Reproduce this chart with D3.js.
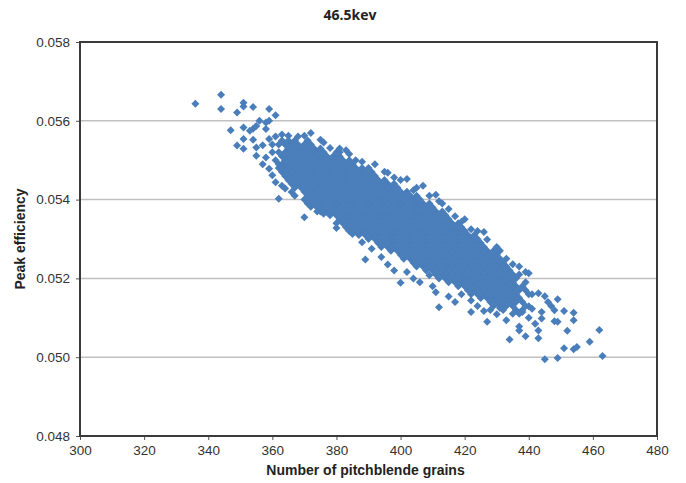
<!DOCTYPE html>
<html>
<head>
<meta charset="utf-8">
<script src="https://cdn.jsdelivr.net/npm/d3@7"></script>
<style>
  body { margin: 0; background: #fff; }
  .tick text { font-family: Arial, "Liberation Sans", sans-serif; font-size: 13.5px; fill: #333; }
  .tick line { stroke: #555; }
  .title { font-family: "Open Sans", sans-serif; font-weight: 700; font-size: 14px; fill: #222; }
  .axis-title { font-family: Arial, "Liberation Sans", sans-serif; font-weight: 700; font-size: 14px; fill: #222; }
</style>
</head>
<body>
<div id="vis"></div>
<script>
// tick values
var xTicks = [300, 320, 340, 360, 380, 400, 420, 440, 460, 480];
var yTicks = [0.048, 0.050, 0.052, 0.054, 0.056, 0.058];

// dense band, one column per grain count
var coreGrains = [362, 363, 364, 365, 366, 367, 368, 369, 370, 371, 372, 373, 374, 375, 376, 377, 378, 379, 380,
    381, 382, 383, 384, 385, 386, 387, 388, 389, 390, 391, 392, 393, 394, 395, 396, 397, 398, 399, 400,
    401, 402, 403, 404, 405, 406, 407, 408, 409, 410, 411, 412, 413, 414, 415, 416, 417, 418, 419, 420,
    421, 422, 423, 424, 425, 426, 427, 428, 429, 430, 431, 432, 433, 434, 435, 436, 437, 438, 439, 440];
var coreEfficiency = [
    [0.0548, 0.0552, 0.0554],
    [0.0547, 0.0549, 0.0551, 0.0555],
    [0.0546, 0.0548, 0.0550, 0.0552, 0.0554],
    [0.0545, 0.0547, 0.0549, 0.0551, 0.0553, 0.0555],
    [0.0544, 0.0546, 0.0548, 0.0550, 0.0552, 0.0554],
    [0.0543, 0.0545, 0.0547, 0.0549, 0.0551, 0.0553, 0.0555],
    [0.0544, 0.0546, 0.0548, 0.0550, 0.0552, 0.0554],
    [0.0543, 0.0545, 0.0547, 0.0549, 0.0551, 0.0553],
    [0.0540, 0.0542, 0.0544, 0.0546, 0.0548, 0.0550, 0.0552, 0.0554],
    [0.0539, 0.0541, 0.0543, 0.0545, 0.0547, 0.0549, 0.0551, 0.0553, 0.0555],
    [0.0540, 0.0542, 0.0544, 0.0546, 0.0548, 0.0550, 0.0552, 0.0554],
    [0.0539, 0.0541, 0.0543, 0.0545, 0.0547, 0.0549, 0.0551, 0.0553],
    [0.0538, 0.0540, 0.0542, 0.0544, 0.0546, 0.0548, 0.0550, 0.0552],
    [0.0537, 0.0539, 0.0541, 0.0543, 0.0545, 0.0547, 0.0549, 0.0551, 0.0553],
    [0.0538, 0.0540, 0.0542, 0.0544, 0.0546, 0.0548, 0.0550, 0.0552],
    [0.0537, 0.0539, 0.0541, 0.0543, 0.0545, 0.0547, 0.0549, 0.0551],
    [0.0536, 0.0538, 0.0540, 0.0542, 0.0544, 0.0546, 0.0548, 0.0550],
    [0.0537, 0.0539, 0.0541, 0.0543, 0.0545, 0.0547, 0.0549, 0.0551],
    [0.0534, 0.0536, 0.0538, 0.0540, 0.0542, 0.0544, 0.0546, 0.0548, 0.0550, 0.0552],
    [0.0535, 0.0537, 0.0539, 0.0541, 0.0543, 0.0545, 0.0547, 0.0549, 0.0551],
    [0.0534, 0.0536, 0.0538, 0.0540, 0.0542, 0.0544, 0.0546, 0.0548, 0.0550],
    [0.0533, 0.0535, 0.0537, 0.0539, 0.0541, 0.0543, 0.0545, 0.0547, 0.0549],
    [0.0532, 0.0534, 0.0536, 0.0538, 0.0540, 0.0542, 0.0544, 0.0546, 0.0548, 0.0550],
    [0.0533, 0.0535, 0.0537, 0.0539, 0.0541, 0.0543, 0.0545, 0.0547, 0.0549],
    [0.0532, 0.0534, 0.0536, 0.0538, 0.0540, 0.0542, 0.0544, 0.0546, 0.0548],
    [0.0531, 0.0533, 0.0535, 0.0537, 0.0539, 0.0541, 0.0543, 0.0545, 0.0547],
    [0.0532, 0.0534, 0.0536, 0.0538, 0.0540, 0.0542, 0.0544, 0.0546, 0.0548],
    [0.0531, 0.0533, 0.0535, 0.0537, 0.0539, 0.0541, 0.0543, 0.0545, 0.0547],
    [0.0530, 0.0532, 0.0534, 0.0536, 0.0538, 0.0540, 0.0542, 0.0544, 0.0546],
    [0.0531, 0.0533, 0.0535, 0.0537, 0.0539, 0.0541, 0.0543, 0.0545, 0.0547],
    [0.0530, 0.0532, 0.0534, 0.0536, 0.0538, 0.0540, 0.0542, 0.0544, 0.0546],
    [0.0529, 0.0531, 0.0533, 0.0535, 0.0537, 0.0539, 0.0541, 0.0543, 0.0545],
    [0.0528, 0.0530, 0.0532, 0.0534, 0.0536, 0.0538, 0.0540, 0.0542, 0.0544],
    [0.0529, 0.0531, 0.0533, 0.0535, 0.0537, 0.0539, 0.0541, 0.0543, 0.0545],
    [0.0528, 0.0530, 0.0532, 0.0534, 0.0536, 0.0538, 0.0540, 0.0542, 0.0544],
    [0.0527, 0.0529, 0.0531, 0.0533, 0.0535, 0.0537, 0.0539, 0.0541, 0.0543],
    [0.0528, 0.0530, 0.0532, 0.0534, 0.0536, 0.0538, 0.0540, 0.0542, 0.0544],
    [0.0527, 0.0529, 0.0531, 0.0533, 0.0535, 0.0537, 0.0539, 0.0541, 0.0543],
    [0.0526, 0.0528, 0.0530, 0.0532, 0.0534, 0.0536, 0.0538, 0.0540, 0.0542],
    [0.0525, 0.0527, 0.0529, 0.0531, 0.0533, 0.0535, 0.0537, 0.0539, 0.0541],
    [0.0526, 0.0528, 0.0530, 0.0532, 0.0534, 0.0536, 0.0538, 0.0540, 0.0542],
    [0.0525, 0.0527, 0.0529, 0.0531, 0.0533, 0.0535, 0.0537, 0.0539, 0.0541],
    [0.0524, 0.0526, 0.0528, 0.0530, 0.0532, 0.0534, 0.0536, 0.0538, 0.0540],
    [0.0523, 0.0525, 0.0527, 0.0529, 0.0531, 0.0533, 0.0535, 0.0537, 0.0539, 0.0541],
    [0.0524, 0.0526, 0.0528, 0.0530, 0.0532, 0.0534, 0.0536, 0.0538, 0.0540],
    [0.0523, 0.0525, 0.0527, 0.0529, 0.0531, 0.0533, 0.0535, 0.0537, 0.0539],
    [0.0522, 0.0524, 0.0526, 0.0528, 0.0530, 0.0532, 0.0534, 0.0536, 0.0538],
    [0.0523, 0.0525, 0.0527, 0.0529, 0.0531, 0.0533, 0.0535, 0.0537, 0.0539],
    [0.0522, 0.0524, 0.0526, 0.0528, 0.0530, 0.0532, 0.0534, 0.0536, 0.0538],
    [0.0521, 0.0523, 0.0525, 0.0527, 0.0529, 0.0531, 0.0533, 0.0535, 0.0537],
    [0.0520, 0.0522, 0.0524, 0.0526, 0.0528, 0.0530, 0.0532, 0.0534, 0.0536],
    [0.0521, 0.0523, 0.0525, 0.0527, 0.0529, 0.0531, 0.0533, 0.0535, 0.0537],
    [0.0520, 0.0522, 0.0524, 0.0526, 0.0528, 0.0530, 0.0532, 0.0534, 0.0536],
    [0.0519, 0.0521, 0.0523, 0.0525, 0.0527, 0.0529, 0.0531, 0.0533, 0.0535],
    [0.0520, 0.0522, 0.0524, 0.0526, 0.0528, 0.0530, 0.0532, 0.0534],
    [0.0519, 0.0521, 0.0523, 0.0525, 0.0527, 0.0529, 0.0531, 0.0533],
    [0.0518, 0.0520, 0.0522, 0.0524, 0.0526, 0.0528, 0.0530, 0.0532],
    [0.0519, 0.0521, 0.0523, 0.0525, 0.0527, 0.0529, 0.0531, 0.0533],
    [0.0518, 0.0520, 0.0522, 0.0524, 0.0526, 0.0528, 0.0530, 0.0532],
    [0.0517, 0.0519, 0.0521, 0.0523, 0.0525, 0.0527, 0.0529, 0.0531],
    [0.0516, 0.0518, 0.0520, 0.0522, 0.0524, 0.0526, 0.0528, 0.0530],
    [0.0517, 0.0519, 0.0521, 0.0523, 0.0525, 0.0527, 0.0529, 0.0531],
    [0.0516, 0.0518, 0.0520, 0.0522, 0.0524, 0.0526, 0.0528, 0.0530],
    [0.0515, 0.0517, 0.0519, 0.0521, 0.0523, 0.0525, 0.0527, 0.0529],
    [0.0516, 0.0518, 0.0520, 0.0522, 0.0524, 0.0526, 0.0528],
    [0.0515, 0.0517, 0.0519, 0.0521, 0.0523, 0.0525, 0.0527],
    [0.0514, 0.0516, 0.0518, 0.0520, 0.0522, 0.0524, 0.0526],
    [0.0513, 0.0515, 0.0517, 0.0519, 0.0521, 0.0523, 0.0525, 0.0527],
    [0.0514, 0.0516, 0.0518, 0.0520, 0.0522, 0.0524, 0.0526],
    [0.0513, 0.0515, 0.0517, 0.0519, 0.0521, 0.0523, 0.0525],
    [0.0512, 0.0514, 0.0516, 0.0518, 0.0520, 0.0522, 0.0524],
    [0.0513, 0.0515, 0.0517, 0.0519, 0.0521, 0.0523],
    [0.0514, 0.0516, 0.0518, 0.0520, 0.0522],
    [0.0513, 0.0515, 0.0517, 0.0519, 0.0521],
    [0.0512, 0.0514, 0.0516, 0.0518, 0.0520],
    [0.0511, 0.0515, 0.0517, 0.0521],
    [0.0512, 0.0514, 0.0518],
    [0.0513, 0.0517, 0.0519],
    [0.0510, 0.0516]
];

// scattered points above the band (grains, efficiency)
var upperPoints = [
    [336, 0.05643], [344, 0.05666], [344, 0.05630], [349, 0.05621], [351, 0.05646], [351, 0.05636],
    [354, 0.05635], [359, 0.05630], [361, 0.05614], [356, 0.05600], [359, 0.05600], [347, 0.05576],
    [351, 0.05583], [353, 0.05575], [354, 0.05580], [358, 0.05579], [349, 0.05537], [351, 0.05554],
    [351, 0.05529], [354, 0.05552], [355, 0.05532], [355, 0.05511], [357, 0.05538], [358, 0.05507],
    [359, 0.05554], [360, 0.05520], [358, 0.05596], [355, 0.05587], [372, 0.05569], [365, 0.05562],
    [368, 0.05560], [357, 0.05490], [360, 0.05462], [370, 0.05562], [375, 0.05552], [376, 0.05545],
    [378, 0.05531], [383, 0.05525], [384, 0.05516], [381, 0.05520], [381, 0.05530], [386, 0.05500],
    [388, 0.05496], [390, 0.05480], [392, 0.05490], [395, 0.05471], [396, 0.05468], [398, 0.05456],
    [400, 0.05450], [402, 0.05452], [407, 0.05435], [405, 0.05430], [404, 0.05424], [411, 0.05412],
    [409, 0.05410], [412, 0.05396], [413, 0.05390], [415, 0.05376], [420, 0.05350], [417, 0.05358],
    [419, 0.05344], [418, 0.05340], [422, 0.05325], [426, 0.05318], [424, 0.05320], [427, 0.05299],
    [430, 0.05280], [431, 0.05270], [433, 0.05250], [435, 0.05236], [437, 0.05230], [439, 0.05216],
    [440, 0.05213], [443, 0.05162], [441, 0.05160], [445, 0.05155], [361, 0.05500], [360, 0.05540],
    [361, 0.05560], [359, 0.05478], [363, 0.05565]
];

// scattered points below the band and the right-hand tail
var lowerPoints = [
    [362, 0.05490], [361, 0.05444], [363, 0.05435], [366, 0.05419], [362, 0.05402], [370, 0.05355],
    [376, 0.05364], [380, 0.05328], [385, 0.05313], [388, 0.05292], [391, 0.05275], [389, 0.05248],
    [384, 0.05322], [394, 0.05254], [396, 0.05235], [398, 0.05220], [402, 0.05216], [400, 0.05189],
    [404, 0.05200], [406, 0.05190], [409, 0.05208], [410, 0.05180], [412, 0.05127], [411, 0.05165],
    [415, 0.05154], [417, 0.05140], [419, 0.05160], [422, 0.05144], [424, 0.05130], [427, 0.05090],
    [422, 0.05115], [426, 0.05117], [428, 0.05120], [430, 0.05109], [431, 0.05125], [433, 0.05094],
    [435, 0.05110], [437, 0.05068], [437, 0.05078], [434, 0.05045], [439, 0.05053], [440, 0.05129],
    [441, 0.05123], [438, 0.05115], [442, 0.05085], [443, 0.05068], [443, 0.05048], [444, 0.05098],
    [444, 0.05115], [446, 0.05140], [447, 0.05130], [449, 0.05147], [448, 0.05119], [451, 0.05117],
    [454, 0.05113], [454, 0.05094], [448, 0.05091], [449, 0.05090], [452, 0.05067], [462, 0.05069],
    [459, 0.05039], [454, 0.05020], [455, 0.05026], [451, 0.05023], [463, 0.05003], [445, 0.04995],
    [449, 0.04998], [364, 0.05428], [367, 0.05410], [372, 0.05382], [374, 0.05370]
];

var points = [];
coreGrains.forEach(function(g, i) {
    coreEfficiency[i].forEach(function(e) { points.push([g, e]); });
});
points = points.concat(upperPoints, lowerPoints);

var width = 686, height = 483;
var margin = { left: 80, right: 29, top: 42, bottom: 47 };
var drawWidth = width - margin.left - margin.right,
    drawHeight = height - margin.top - margin.bottom;

var svg = d3.select('#vis').append('svg')
    .attr('width', width)
    .attr('height', height);

var xScale = d3.scaleLinear().domain([300, 480]).range([0, drawWidth]);
var yScale = d3.scaleLinear().domain([0.048, 0.058]).range([drawHeight, 0]);

var g = svg.append('g')
    .attr('transform', `translate(${margin.left}, ${margin.top})`);

// horizontal gridlines
g.selectAll('.grid')
    .data(yTicks.slice(1, -1))
    .enter().append('line')
    .attr('class', 'grid')
    .attr('x1', 0).attr('x2', drawWidth)
    .attr('y1', (d) => yScale(d)).attr('y2', (d) => yScale(d))
    .attr('stroke', '#c0c0c0')
    .attr('stroke-width', 1.5);

var xAxis = d3.axisBottom(xScale).tickValues(xTicks).tickSize(4).tickPadding(5);
var yAxis = d3.axisLeft(yScale).tickValues(yTicks).tickFormat(d3.format('.3f')).tickSize(4).tickPadding(6);

g.append('g').attr('transform', `translate(0, ${drawHeight})`).call(xAxis)
    .call((a) => a.select('.domain').remove());
g.append('g').call(yAxis)
    .call((a) => a.select('.domain').remove());

// diamonds
g.selectAll('path.pt')
    .data(points)
    .enter().append('path')
    .attr('class', 'pt')
    .attr('d', 'M0,-4L4,0L0,4L-4,0Z')
    .attr('transform', (d) => `translate(${xScale(d[0])}, ${yScale(d[1])})`)
    .attr('fill', '#4a7ebb');

// plot frame
g.append('rect')
    .attr('width', drawWidth)
    .attr('height', drawHeight)
    .attr('fill', 'none')
    .attr('stroke', '#3a3a3a')
    .attr('stroke-width', 2);

svg.append('text')
    .attr('class', 'title')
    .attr('x', 350).attr('y', 20)
    .attr('text-anchor', 'middle')
    .text('46.5kev');

svg.append('text')
    .attr('class', 'axis-title')
    .attr('x', margin.left + drawWidth / 2 - 3).attr('y', 475)
    .attr('text-anchor', 'middle')
    .text('Number of pitchblende grains');

svg.append('text')
    .attr('class', 'axis-title')
    .attr('transform', `translate(25, ${margin.top + drawHeight / 2}) rotate(-90)`)
    .attr('text-anchor', 'middle')
    .text('Peak efficiency');
</script>
</body>
</html>
